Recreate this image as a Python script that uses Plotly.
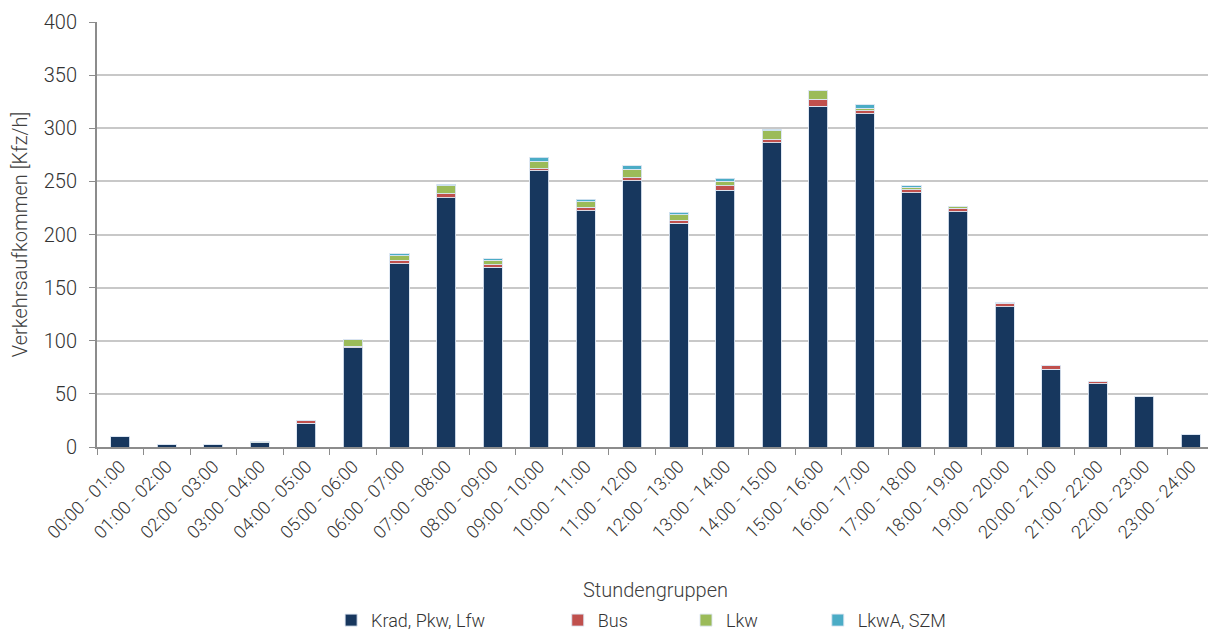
import plotly.graph_objects as go

categories = ["00:00 - 01:00", "01:00 - 02:00", "02:00 - 03:00", "03:00 - 04:00",
              "04:00 - 05:00", "05:00 - 06:00", "06:00 - 07:00", "07:00 - 08:00",
              "08:00 - 09:00", "09:00 - 10:00", "10:00 - 11:00", "11:00 - 12:00",
              "12:00 - 13:00", "13:00 - 14:00", "14:00 - 15:00", "15:00 - 16:00",
              "16:00 - 17:00", "17:00 - 18:00", "18:00 - 19:00", "19:00 - 20:00",
              "20:00 - 21:00", "21:00 - 22:00", "22:00 - 23:00", "23:00 - 24:00"]

krad_pkw_lfw = [10, 2, 2, 4, 22.5, 93.5, 172.5, 234.5, 169, 260, 222.5, 250.5,
                210.5, 241.5, 286.5, 320.5, 313.5, 239.5, 221.5, 132, 73, 59.5, 48, 12]
bus = [0, 0, 0, 0, 2, 1.5, 3.5, 4, 2.5, 2, 3, 3,
       3, 4.5, 3, 7, 3, 2.5, 3, 3.5, 4, 2.5, 0, 0]
lkw = [0, 0, 0, 1, 0, 6.5, 4, 7.5, 4.5, 7, 5.5, 8,
       5, 4, 8, 8.5, 2.5, 2.5, 1.5, 0.5, 0, 0, 0, 0]
lkwa_szm = [0, 0, 0, 0, 0, 0, 2, 1.5, 1, 3.5, 2, 3,
            2.5, 3, 1.5, 0, 3, 1.5, 0, 0, 0, 0, 0, 0]

y_ticks = [0, 50, 100, 150, 200, 250, 300, 350, 400]

series = [
    ("Krad, Pkw, Lfw", krad_pkw_lfw, "#17375E"),
    ("Bus", bus, "#C0504D"),
    ("Lkw", lkw, "#9BBB59"),
    ("LkwA, SZM", lkwa_szm, "#4BACC6"),
]

FONT = "Roboto, Liberation Sans, sans-serif"
TXT = "#333333"
W = 300

fig = go.Figure()
legend_names = ["legend", "legend2", "legend3", "legend4"]
for i, (name, vals, color) in enumerate(series):
    fig.add_trace(go.Bar(
        x=categories, y=vals, name=name, showlegend=True,
        marker=dict(color=color, line=dict(color="rgba(220,230,242,0.9)", width=1)),
        legend=legend_names[i],
    ))

legend_common = dict(orientation="h", yanchor="middle", y=-0.408, xanchor="left",
                     font=dict(family=FONT, size=18, color=TXT, weight=W),
                     bgcolor="rgba(0,0,0,0)", itemwidth=30, visible=True)

legend_x = [0.2096, 0.4125, 0.5273, 0.6453]

# the page body adds an 8px offset, so the figure is sized to the visible area
fig.update_layout(
    barmode="stack",
    bargap=0.59,
    showlegend=True,
    width=1208, height=626,
    margin=dict(l=89, r=2, t=14, b=187, autoexpand=False),
    plot_bgcolor="white", paper_bgcolor="white",
    font=dict(family=FONT, size=17, color=TXT, weight=W),
    legend=dict(legend_common, x=legend_x[0]),
    legend2=dict(legend_common, x=legend_x[1]),
    legend3=dict(legend_common, x=legend_x[2]),
    legend4=dict(legend_common, x=legend_x[3]),
    xaxis=dict(
        type="category", tickangle=-45, tickson="boundaries", automargin=False,
        ticks="outside", ticklen=6, tickcolor="#8c8c8c",
        showline=True, linecolor="#8c8c8c", linewidth=2,
        showgrid=False,
        tickfont=dict(family=FONT, size=18, color=TXT, weight=W),
        title=dict(text="Stundengruppen", standoff=42,
                   font=dict(family=FONT, size=20, color="#404040", weight=W)),
    ),
    yaxis=dict(
        range=[0, 400], tickvals=y_ticks, ticks="outside", ticklen=6,
        automargin=False, ticklabelstandoff=8,
        tickcolor="#8c8c8c", showline=True, linecolor="#8c8c8c", linewidth=2,
        showgrid=True, gridcolor="#c8c8c8", gridwidth=2, zeroline=False,
        tickfont=dict(family=FONT, size=20, color=TXT, weight=W),
        title=dict(text="Verkehrsaufkommen [Kfz/h]", standoff=12,
                   font=dict(family=FONT, size=20, color="#404040", weight=W)),
    ),
)

fig.write_html("out.html")
